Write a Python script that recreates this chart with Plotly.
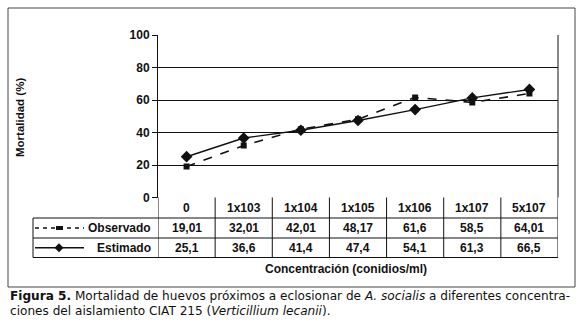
import plotly.graph_objects as go

categories = ["0", "1x103", "1x104", "1x105", "1x106", "1x107", "5x107"]
observado = [19.01, 32.01, 42.01, 48.17, 61.6, 58.5, 64.01]
estimado = [25.1, 36.6, 41.4, 47.4, 54.1, 61.3, 66.5]
y_ticks = [0, 20, 40, 60, 80, 100]
series_names = ["Observado", "Estimado"]

W, H = 580, 327
def px(x):
    return x / W
def py(y):
    return 1 - y / H

PL, PR, PT, PB = 158, 558, 35, 197.5
ROW1, ROW2, ROW3 = 218, 238, 257.5
TL = 33
BLACK = "#111111"
FONT = "Liberation Sans, Arial, sans-serif"

fig = go.Figure()
fig.add_trace(go.Scatter(
    x=categories, y=observado, name=series_names[0], mode="lines+markers",
    line=dict(color=BLACK, width=1.6, dash="dash"),
    marker=dict(symbol="square", size=6, color=BLACK),
))
fig.add_trace(go.Scatter(
    x=categories, y=estimado, name=series_names[1], mode="lines+markers",
    line=dict(color=BLACK, width=1.4),
    marker=dict(symbol="diamond", size=9, color=BLACK),
))

shapes = []
shapes.append(dict(type="rect", xref="paper", yref="paper", x0=px(8), x1=px(575), y0=py(287), y1=py(8),
                   line=dict(color="#444444", width=1)))
shapes.append(dict(type="line", xref="paper", yref="paper", x0=px(PR), x1=px(PR), y0=py(PB), y1=py(PT),
                   line=dict(color=BLACK, width=1)))
for yy in [ROW1, ROW2, ROW3]:
    shapes.append(dict(type="line", xref="paper", yref="paper", x0=px(TL), x1=px(PR), y0=py(yy), y1=py(yy),
                       line=dict(color=BLACK, width=1)))
shapes.append(dict(type="line", xref="paper", yref="paper", x0=px(TL), x1=px(TL), y0=py(ROW3), y1=py(ROW1),
                   line=dict(color=BLACK, width=1)))
for i in range(len(categories) + 1):
    shapes.append(dict(type="line", xref="x", yref="paper", x0=i - 0.5, x1=i - 0.5, y0=py(ROW3), y1=py(PB),
                       line=dict(color=BLACK, width=1)))
ly1 = (ROW1 + ROW2) / 2
ly2 = (ROW2 + ROW3) / 2
shapes.append(dict(type="line", xref="paper", yref="paper", x0=px(35), x1=px(84), y0=py(ly1), y1=py(ly1),
                   line=dict(color=BLACK, width=1.5, dash="4px,4px")))
shapes.append(dict(type="rect", xref="paper", yref="paper", x0=px(56), x1=px(63), y0=py(ly1 + 2), y1=py(ly1 - 2),
                   line=dict(width=0), fillcolor=BLACK))
shapes.append(dict(type="line", xref="paper", yref="paper", x0=px(35), x1=px(84), y0=py(ly2), y1=py(ly2),
                   line=dict(color=BLACK, width=1.3)))
cx, cy = 59, ly2
shapes.append(dict(type="path", xref="paper", yref="paper",
                   path=f"M {px(cx-4.5)} {py(cy)} L {px(cx)} {py(cy-4.5)} L {px(cx+4.5)} {py(cy)} L {px(cx)} {py(cy+4.5)} Z",
                   line=dict(width=0), fillcolor=BLACK))

annotations = []
tfont = dict(family=FONT, size=12, color=BLACK)
def ann(**kw):
    d = dict(showarrow=False, xanchor="center", yanchor="middle", font=tfont)
    d.update(kw)
    annotations.append(d)

for i, c in enumerate(categories):
    ann(x=c, y=py((PB + ROW1) / 2), xref="x", yref="paper", text=f"<b>{c}</b>")
    ann(x=c, y=py(ly1), xref="x", yref="paper", text="<b>" + str(observado[i]).replace(".", ",") + "</b>")
    ann(x=c, y=py(ly2), xref="x", yref="paper", text="<b>" + str(estimado[i]).replace(".", ",") + "</b>")
ann(x=px(153), y=py(ly1), xref="paper", yref="paper", xanchor="right", text="<b>" + series_names[0] + "</b>")
ann(x=px(153), y=py(ly2), xref="paper", yref="paper", xanchor="right", text="<b>" + series_names[1] + "</b>")
ann(x=px(346), y=py(269), xref="paper", yref="paper", text="<b>Concentración (conidios/ml)</b>")
ann(x=px(20), y=py(118), xref="paper", yref="paper", textangle=-90, text="<b>Mortalidad (%)</b>",
    font=dict(family=FONT, size=11.5, color=BLACK))
cfont = dict(family="DejaVu Sans, sans-serif", size=12.1, color="#111111")
ann(x=px(8), y=py(296), xref="paper", yref="paper", xanchor="left",
    text="<b>Figura 5.</b> Mortalidad de huevos próximos a eclosionar de <i>A. socialis</i> a diferentes concentra-",
    font=cfont)
ann(x=px(8), y=py(311), xref="paper", yref="paper", xanchor="left",
    text="ciones del aislamiento CIAT 215 (<i>Verticillium lecanii</i>).", font=cfont)

fig.update_layout(
    width=W, height=H, margin=dict(l=0, r=0, t=0, b=0),
    paper_bgcolor="white", plot_bgcolor="white", showlegend=False,
    xaxis=dict(domain=[px(PL), px(PR)], type="category", range=[-0.5, len(categories) - 0.5],
               showticklabels=False, showgrid=False, zeroline=False, showline=False, ticks=""),
    yaxis=dict(domain=[py(PB), py(PT)], range=[0, 100], tickvals=y_ticks,
               ticktext=[f"<b>{v}</b>" for v in y_ticks],
               showgrid=True, gridcolor=BLACK, gridwidth=1, zeroline=False,
               showline=True, linecolor=BLACK, linewidth=1,
               ticks="outside", ticklen=5, tickcolor=BLACK,
               tickfont=dict(family=FONT, size=12, color=BLACK), automargin=False),
    shapes=shapes, annotations=annotations,
)
fig.write_html("out.html", config={"displayModeBar": False},
               post_script="document.body.style.margin='0';document.body.style.overflow='hidden';")
